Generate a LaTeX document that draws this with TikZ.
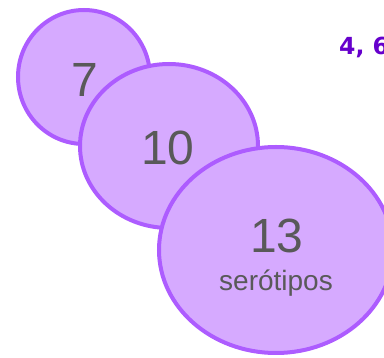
\documentclass[tikz,border=0pt]{standalone}
\usepackage{fontspec}
\setmainfont{Liberation Sans}
\newfontfamily\headfont{DejaVu Sans}
\usetikzlibrary{shapes.geometric}
\definecolor{bubblefill}{HTML}{D6AAFF}
\definecolor{bubbleedge}{HTML}{AD5CFF}
\definecolor{numgray}{HTML}{595959}
\definecolor{headpurple}{HTML}{6600CC}
\begin{document}
\begin{tikzpicture}[x=1pt,y=-1pt,
  bubble/.style={ellipse, draw=bubbleedge, fill=bubblefill, line width=4pt, inner sep=0pt},
  bignum/.style={text=numgray, inner sep=0pt, font=\fontsize{48}{48}\selectfont},
  smalltxt/.style={text=numgray, inner sep=0pt, font=\fontsize{28}{28}\selectfont},
  headtxt/.style={text=headpurple, inner sep=0pt, font=\headfont\bfseries\fontsize{23.5}{24}\selectfont}]
\useasboundingbox (0,0) rectangle (384,358);
% three overlapping bubbles, later ones on top
\node[bubble, minimum width=132pt, minimum height=134pt] (b7) at (84,77) {};
\node[bignum] (n7) at (85,80) {7};
\node[bubble, minimum width=178pt, minimum height=164pt] (b10) at (169,146) {};
\node[bignum] (n10) at (168,148) {10};
\node[bubble, minimum width=234pt, minimum height=206pt] (b13) at (276,250) {};
\node[bignum] (n13) at (277,236) {13};
\node[smalltxt, anchor=base] (sero) at (276,291) {serótipos};
% heading at the top right, running past the edge
\node[headtxt, anchor=base west] (head) at (339,55) {4, 6};
\end{tikzpicture}
\end{document}
